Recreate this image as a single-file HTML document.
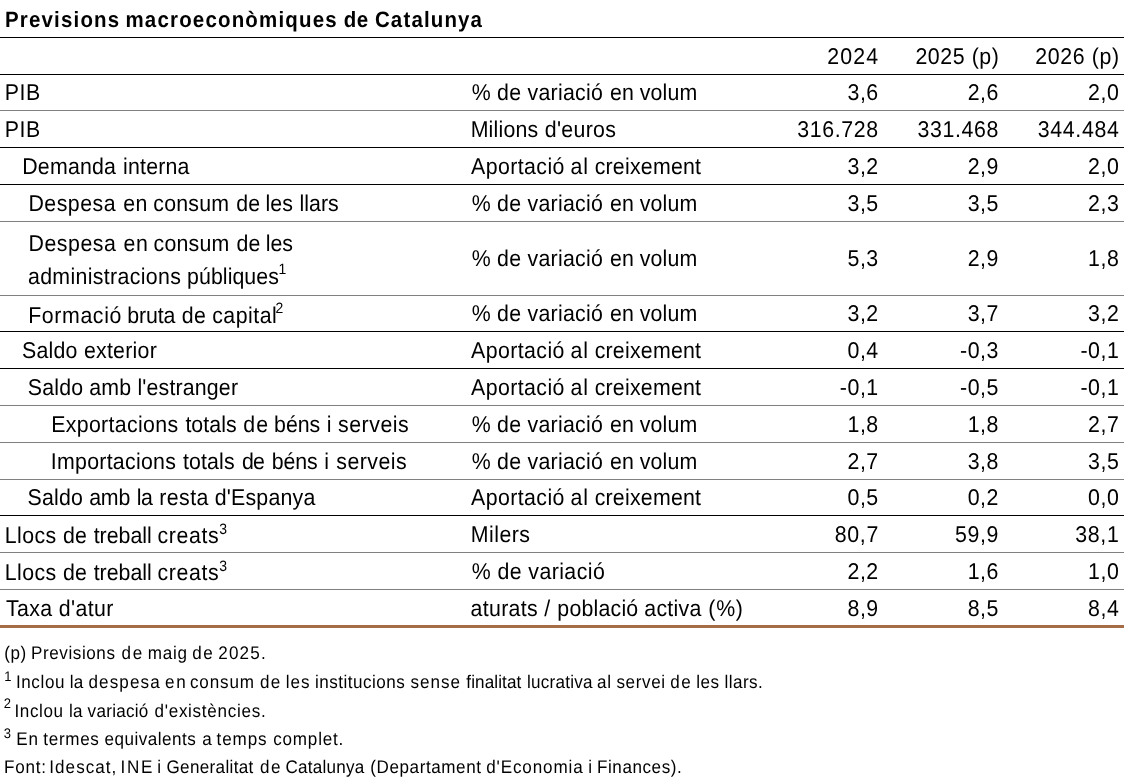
<!DOCTYPE html>
<html lang="ca">
<head>
<meta charset="utf-8">
<title>Previsions macroeconòmiques de Catalunya</title>
<style>
html,body{margin:0;padding:0;background:#fff;}
body{width:1125px;height:781px;position:relative;overflow:hidden;font-family:"Liberation Sans", sans-serif;color:#000;text-rendering:geometricPrecision;}
.l{position:absolute;left:0px;width:1124px;height:1px;background:#000;}
.g{background:#808080;}
.t{position:absolute;white-space:nowrap;line-height:1;font-size:21.33px;margin:0;transform:scaleY(1.07);transform-origin:0 17px;}
.f{font-size:17.07px;transform:scaleY(1.07);transform-origin:0 14px;}
.b{font-weight:bold;transform:scale(0.96,1.04);}
sup{position:absolute;line-height:1;letter-spacing:0;vertical-align:baseline;font-size:14px;}
.f sup{font-size:13px;}
</style>
</head>
<body>
<div class="l" style="top:37px;"></div>
<div class="l" style="top:74px;"></div>
<div class="l g" style="top:110px;"></div>
<div class="l" style="top:147px;"></div>
<div class="l" style="top:184px;"></div>
<div class="l g" style="top:221px;"></div>
<div class="l g" style="top:295px;"></div>
<div class="l" style="top:331px;"></div>
<div class="l" style="top:368px;"></div>
<div class="l g" style="top:405px;"></div>
<div class="l g" style="top:442px;"></div>
<div class="l g" style="top:479px;"></div>
<div class="l" style="top:515px;"></div>
<div class="l g" style="top:552px;"></div>
<div class="l g" style="top:589px;"></div>
<div class="l" style="top:625px;background:#a46c47;height:3px;"></div>
<div class="t b" style="left:5.12px;top:10px;letter-spacing:1.2px;"><span style="letter-spacing:1.23px">Previsions</span> <span style="margin-left:-1.84px;letter-spacing:1.23px">macroeconòmiques</span> <span style="margin-left:-0.99px;letter-spacing:0.56px">de</span> <span style="margin-left:-0.66px">Catalunya</span></div>
<div class="t" style="left:827.21px;top:47px;letter-spacing:1.12px;">2024</div>
<div class="t" style="left:915.41px;top:47px;letter-spacing:0.57px;">2025 (p)</div>
<div class="t" style="left:1035.21px;top:47px;letter-spacing:0.65px;">2026 (p)</div>
<div class="t" style="left:4.85px;top:83px;letter-spacing:0.54px;">PIB</div>
<div class="t" style="left:471.7px;top:83px;letter-spacing:0.24px;">% <span style="letter-spacing:0.3px">de</span> <span style="margin-left:-0.04px;letter-spacing:0.26px">variació</span> <span style="margin-left:0.67px;letter-spacing:0.31px">en</span> <span style="margin-left:-0.75px;letter-spacing:0.17px">volum</span></div>
<div class="t" style="left:847.49px;top:83px;letter-spacing:0.55px;">3,6</div>
<div class="t" style="left:967.69px;top:83px;letter-spacing:0.55px;">2,6</div>
<div class="t" style="left:1088.09px;top:83px;letter-spacing:0.55px;">2,0</div>
<div class="t" style="left:4.85px;top:120px;letter-spacing:0.54px;">PIB</div>
<div class="t" style="left:470.65px;top:120px;letter-spacing:0.26px;"><span style="letter-spacing:0.21px">Milions</span> <span style="margin-left:0.17px;letter-spacing:0.3px">d'euros</span></div>
<div class="t" style="left:797.24px;top:120px;letter-spacing:0.65px;">316.728</div>
<div class="t" style="left:917.44px;top:120px;letter-spacing:0.65px;">331.468</div>
<div class="t" style="left:1037.84px;top:120px;letter-spacing:0.65px;">344.484</div>
<div class="t" style="left:22.25px;top:157px;letter-spacing:0.2px;">Demanda <span style="margin-left:0.76px">interna</span></div>
<div class="t" style="left:471.03px;top:157px;letter-spacing:0.34px;"><span style="letter-spacing:0.41px">Aportació</span> <span style="margin-left:-0.55px;letter-spacing:0.76px">al</span> <span style="margin-left:-0.33px;letter-spacing:0.23px">creixement</span></div>
<div class="t" style="left:847.49px;top:157px;letter-spacing:0.55px;">3,2</div>
<div class="t" style="left:967.69px;top:157px;letter-spacing:0.55px;">2,9</div>
<div class="t" style="left:1088.09px;top:157px;letter-spacing:0.55px;">2,0</div>
<div class="t" style="left:28.45px;top:194px;letter-spacing:0.28px;"><span style="letter-spacing:0.49px">Despesa</span> <span style="margin-left:0.87px;letter-spacing:0.61px">en</span> <span style="margin-left:-1.07px;letter-spacing:0.24px">consum</span> <span style="margin-left:0.6px;letter-spacing:0.2px">de</span> <span style="margin-left:-1.07px;letter-spacing:0.11px">les</span> <span style="margin-left:0.19px;letter-spacing:0.03px">llars</span></div>
<div class="t" style="left:471.7px;top:194px;letter-spacing:0.24px;">% <span style="letter-spacing:0.3px">de</span> <span style="margin-left:-0.04px;letter-spacing:0.26px">variació</span> <span style="margin-left:0.67px;letter-spacing:0.31px">en</span> <span style="margin-left:-0.75px;letter-spacing:0.17px">volum</span></div>
<div class="t" style="left:847.49px;top:194px;letter-spacing:0.55px;">3,5</div>
<div class="t" style="left:967.69px;top:194px;letter-spacing:0.55px;">3,5</div>
<div class="t" style="left:1088.09px;top:194px;letter-spacing:0.55px;">2,3</div>
<div class="t" style="left:471.7px;top:249px;letter-spacing:0.24px;">% <span style="letter-spacing:0.3px">de</span> <span style="margin-left:-0.04px;letter-spacing:0.26px">variació</span> <span style="margin-left:0.67px;letter-spacing:0.31px">en</span> <span style="margin-left:-0.75px;letter-spacing:0.17px">volum</span></div>
<div class="t" style="left:847.49px;top:249px;letter-spacing:0.55px;">5,3</div>
<div class="t" style="left:967.69px;top:249px;letter-spacing:0.55px;">2,9</div>
<div class="t" style="left:1088.09px;top:249px;letter-spacing:0.55px;">1,8</div>
<div class="t" style="left:28.15px;top:306px;letter-spacing:0.41px;"><span style="letter-spacing:0.62px">Formació</span> <span style="margin-left:-1.18px;letter-spacing:-0.09px">bruta</span> <span style="letter-spacing:0.5px">de</span> <span style="margin-left:-0.6px;letter-spacing:0.49px">capital</span><sup style="left:247.45px;top:-4px">2</sup></div>
<div class="t" style="left:471.7px;top:304px;letter-spacing:0.24px;">% <span style="letter-spacing:0.3px">de</span> <span style="margin-left:-0.04px;letter-spacing:0.26px">variació</span> <span style="margin-left:0.67px;letter-spacing:0.31px">en</span> <span style="margin-left:-0.75px;letter-spacing:0.17px">volum</span></div>
<div class="t" style="left:847.49px;top:304px;letter-spacing:0.55px;">3,2</div>
<div class="t" style="left:967.69px;top:304px;letter-spacing:0.55px;">3,7</div>
<div class="t" style="left:1088.09px;top:304px;letter-spacing:0.55px;">3,2</div>
<div class="t" style="left:21.91px;top:341px;letter-spacing:0.25px;">Saldo exterior</div>
<div class="t" style="left:471.03px;top:341px;letter-spacing:0.34px;"><span style="letter-spacing:0.41px">Aportació</span> <span style="margin-left:-0.55px;letter-spacing:0.76px">al</span> <span style="margin-left:-0.33px;letter-spacing:0.23px">creixement</span></div>
<div class="t" style="left:847.49px;top:341px;letter-spacing:0.55px;">0,4</div>
<div class="t" style="left:960.06px;top:341px;letter-spacing:0.54px;">-0,3</div>
<div class="t" style="left:1080.46px;top:341px;letter-spacing:0.54px;">-0,1</div>
<div class="t" style="left:27.81px;top:378px;letter-spacing:0.17px;">Saldo amb l'estranger</div>
<div class="t" style="left:471.03px;top:378px;letter-spacing:0.34px;"><span style="letter-spacing:0.41px">Aportació</span> <span style="margin-left:-0.55px;letter-spacing:0.76px">al</span> <span style="margin-left:-0.33px;letter-spacing:0.23px">creixement</span></div>
<div class="t" style="left:839.86px;top:378px;letter-spacing:0.54px;">-0,1</div>
<div class="t" style="left:960.06px;top:378px;letter-spacing:0.54px;">-0,5</div>
<div class="t" style="left:1080.46px;top:378px;letter-spacing:0.54px;">-0,1</div>
<div class="t" style="left:51.15px;top:415px;letter-spacing:0.3px;"><span style="letter-spacing:0.33px">Exportacions</span> <span style="margin-left:0.76px;letter-spacing:0.05px">totals</span> <span style="margin-left:0.29px;letter-spacing:1.1px">de</span> <span style="margin-left:-1.27px;letter-spacing:-0.04px">béns</span> <span style="margin-left:0.34px">i</span> <span style="letter-spacing:0.52px">serveis</span></div>
<div class="t" style="left:471.7px;top:415px;letter-spacing:0.24px;">% <span style="letter-spacing:0.3px">de</span> <span style="margin-left:-0.04px;letter-spacing:0.26px">variació</span> <span style="margin-left:0.67px;letter-spacing:0.31px">en</span> <span style="margin-left:-0.75px;letter-spacing:0.17px">volum</span></div>
<div class="t" style="left:847.49px;top:415px;letter-spacing:0.55px;">1,8</div>
<div class="t" style="left:967.69px;top:415px;letter-spacing:0.55px;">1,8</div>
<div class="t" style="left:1088.09px;top:415px;letter-spacing:0.55px;">2,7</div>
<div class="t" style="left:50.8px;top:452px;letter-spacing:0.21px;"><span style="letter-spacing:0.27px">Importacions</span> <span style="margin-left:0.66px;letter-spacing:0.13px">totals</span> <span style="margin-left:1.1px;letter-spacing:-0.7px">de</span> <span style="margin-left:1.32px;letter-spacing:-0.07px">béns</span> <span style="margin-left:0.47px">i</span> <span style="margin-left:0.92px;letter-spacing:0.47px">serveis</span></div>
<div class="t" style="left:471.7px;top:452px;letter-spacing:0.24px;">% <span style="letter-spacing:0.3px">de</span> <span style="margin-left:-0.04px;letter-spacing:0.26px">variació</span> <span style="margin-left:0.67px;letter-spacing:0.31px">en</span> <span style="margin-left:-0.75px;letter-spacing:0.17px">volum</span></div>
<div class="t" style="left:847.49px;top:452px;letter-spacing:0.55px;">2,7</div>
<div class="t" style="left:967.69px;top:452px;letter-spacing:0.55px;">3,8</div>
<div class="t" style="left:1088.09px;top:452px;letter-spacing:0.55px;">3,5</div>
<div class="t" style="left:27.51px;top:488px;letter-spacing:0.17px;"><span style="letter-spacing:0.21px">Saldo</span> <span style="margin-left:-0.04px;letter-spacing:-0.18px">amb</span> <span style="margin-left:0.58px;letter-spacing:-0.45px">la</span> <span style="margin-left:0.67px;letter-spacing:0.4px">resta</span> <span style="margin-left:-0.09px;letter-spacing:0.2px">d'Espanya</span></div>
<div class="t" style="left:471.03px;top:488px;letter-spacing:0.34px;"><span style="letter-spacing:0.41px">Aportació</span> <span style="margin-left:-0.55px;letter-spacing:0.76px">al</span> <span style="margin-left:-0.33px;letter-spacing:0.23px">creixement</span></div>
<div class="t" style="left:847.49px;top:488px;letter-spacing:0.55px;">0,5</div>
<div class="t" style="left:967.69px;top:488px;letter-spacing:0.55px;">0,2</div>
<div class="t" style="left:1088.09px;top:488px;letter-spacing:0.55px;">0,0</div>
<div class="t" style="left:4.85px;top:526px;letter-spacing:0.29px;"><span style="letter-spacing:0.37px">Llocs</span> <span style="margin-left:0.37px;letter-spacing:0.1px">de</span> <span style="margin-left:0.42px;letter-spacing:0px">treball</span> <span style="margin-left:-0.42px;letter-spacing:0.62px">creats</span><sup style="left:214.34px;top:-3px">3</sup></div>
<div class="t" style="left:470.75px;top:525px;letter-spacing:0.47px;">Milers</div>
<div class="t" style="left:834.69px;top:525px;letter-spacing:0.68px;">80,7</div>
<div class="t" style="left:954.89px;top:525px;letter-spacing:0.68px;">59,9</div>
<div class="t" style="left:1075.29px;top:525px;letter-spacing:0.68px;">38,1</div>
<div class="t" style="left:4.85px;top:563px;letter-spacing:0.29px;"><span style="letter-spacing:0.37px">Llocs</span> <span style="margin-left:0.37px;letter-spacing:0.1px">de</span> <span style="margin-left:0.42px;letter-spacing:0px">treball</span> <span style="margin-left:-0.42px;letter-spacing:0.62px">creats</span><sup style="left:214.34px;top:-3px">3</sup></div>
<div class="t" style="left:471.7px;top:562px;letter-spacing:0.42px;">% de variació</div>
<div class="t" style="left:847.49px;top:562px;letter-spacing:0.55px;">2,2</div>
<div class="t" style="left:967.69px;top:562px;letter-spacing:0.55px;">1,6</div>
<div class="t" style="left:1088.09px;top:562px;letter-spacing:0.55px;">1,0</div>
<div class="t" style="left:5.91px;top:599px;letter-spacing:0.39px;">Taxa d'atur</div>
<div class="t" style="left:470.48px;top:599px;letter-spacing:0.32px;"><span style="letter-spacing:0.35px">aturats</span> <span style="margin-left:-0.08px">/</span> <span style="margin-left:0.55px;letter-spacing:0.2px">població</span> <span style="margin-left:-0.42px;letter-spacing:0.28px">activa</span> <span style="margin-left:0.37px;letter-spacing:0.76px">(%)</span></div>
<div class="t" style="left:847.49px;top:599px;letter-spacing:0.55px;">8,9</div>
<div class="t" style="left:967.69px;top:599px;letter-spacing:0.55px;">8,5</div>
<div class="t" style="left:1088.09px;top:599px;letter-spacing:0.55px;">8,4</div>
<div class="t" style="left:28.45px;top:234px;letter-spacing:0.33px;"><span style="letter-spacing:0.54px">Despesa</span> <span style="margin-left:0.77px;letter-spacing:0.61px">en</span> <span style="margin-left:-1.12px;letter-spacing:0.2px">consum</span> <span style="margin-left:0.68px;letter-spacing:0.3px">de</span> <span style="margin-left:-1.22px;letter-spacing:-0.09px">les</span></div>
<div class="t" style="left:27.98px;top:267px;letter-spacing:0.23px;"><span style="letter-spacing:0.34px">administracions</span> <span style="margin-left:-0.31px;letter-spacing:0.05px">públiques</span><sup style="left:250.57px;top:-4px">1</sup></div>
<div class="t f" style="left:4.29px;top:645px;letter-spacing:0.83px;word-spacing:-0.9px;"><span style="letter-spacing:0.49px">(p)</span> <span style="margin-left:-0.34px;letter-spacing:0.59px">Previsions</span> <span style="margin-left:1.19px;letter-spacing:1.89px">de</span> <span style="margin-left:-1.09px;letter-spacing:0.72px">maig</span> <span style="margin-left:-0.2px;letter-spacing:1.59px">de</span> <span style="margin-left:-0.76px;letter-spacing:1.19px">2025.</span></div>
<div class="t f" style="left:15.91px;top:674px;letter-spacing:0.61px;word-spacing:-0.9px;"><sup style="left:-11.65px;top:-4px">1</sup> Inclou <span style="margin-left:0.14px;letter-spacing:0.25px">la</span> <span style="margin-left:0.6px;letter-spacing:1.11px">despesa</span> <span style="margin-left:-0.16px;letter-spacing:1.69px">en</span> <span style="margin-left:-1.93px;letter-spacing:0.85px">consum</span> <span style="margin-left:0.67px;letter-spacing:1.39px">de</span> <span style="margin-left:-0.46px;letter-spacing:1.03px">les</span> <span style="margin-left:-0.13px;letter-spacing:0.5px">institucions</span> <span style="margin-left:0.75px;letter-spacing:1px">sense</span> <span style="margin-left:0.83px;letter-spacing:0.11px">finalitat</span> <span style="margin-left:1.12px;letter-spacing:0.25px">lucrativa</span> <span style="margin-left:-0.15px;letter-spacing:0.62px">al</span> <span style="margin-left:0.3px;letter-spacing:0.64px">servei</span> <span style="margin-left:0.12px;letter-spacing:1.39px">de</span> <span style="margin-left:-0.26px;letter-spacing:0.43px">les</span> <span style="margin-left:0.65px;letter-spacing:0.47px">llars.</span></div>
<div class="t f" style="left:14.41px;top:703px;letter-spacing:0.56px;word-spacing:-0.9px;"><sup style="left:-10.63px;top:-5px">2</sup> <span style="letter-spacing:0.63px">Inclou</span> <span style="margin-left:0.77px;letter-spacing:0.25px">la</span> <span style="margin-left:0.53px;letter-spacing:0.28px">variació</span> <span style="margin-left:1.47px;letter-spacing:0.71px">d'existències.</span></div>
<div class="t f" style="left:16.18px;top:731px;letter-spacing:0.69px;word-spacing:-0.9px;"><sup style="left:-12.55px;top:-4px">3</sup> <span style="letter-spacing:1.06px">En</span> <span style="margin-left:-0.41px;letter-spacing:0.68px">termes</span> <span style="margin-left:0.55px;letter-spacing:0.49px">equivalents</span> <span style="margin-left:1.48px">a</span> <span style="margin-left:-0.45px;letter-spacing:0.88px">temps</span> <span style="margin-left:1.12px;letter-spacing:0.82px">complet.</span></div>
<div class="t f" style="left:4.08px;top:759px;letter-spacing:0.66px;word-spacing:-0.9px;"><span style="letter-spacing:0.77px">Font:</span> <span style="margin-left:-2.03px;letter-spacing:1.04px">Idescat,</span> <span style="margin-left:-1.41px;letter-spacing:1.73px">INE</span> <span style="margin-left:-1.32px">i</span> <span style="margin-left:0.19px;letter-spacing:0.33px">Generalitat</span> <span style="margin-left:1.91px;letter-spacing:1.59px">de</span> <span style="margin-left:-1.23px;letter-spacing:0.25px">Catalunya</span> <span style="margin-left:1.21px;letter-spacing:0.58px">(Departament</span> <span style="margin-left:0.15px;letter-spacing:0.87px">d'Economia</span> <span style="margin-left:0.16px">i</span> <span style="margin-left:-0.22px;letter-spacing:0.57px">Finances).</span></div>
</body>
</html>
